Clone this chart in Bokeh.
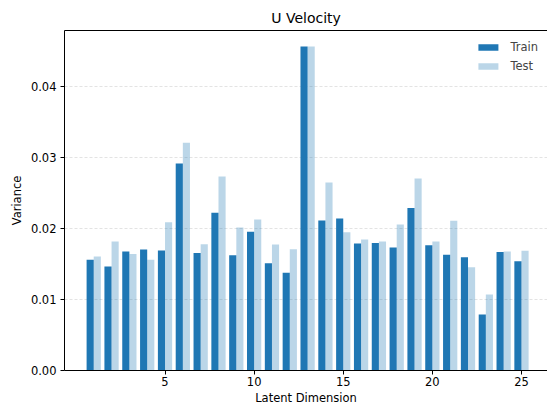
from bokeh.plotting import figure
from bokeh.models import (ColumnDataSource, Range1d, LinearAxis, FixedTicker,
                          NumeralTickFormatter, Legend, LegendItem)
from bokeh.transform import dodge
from bokeh.embed import file_html
from bokeh.resources import INLINE

# Per-dimension variance of the latent code, train vs. test split
dims = list(range(1, 26))
train_var = [0.01559, 0.01465, 0.01676, 0.01704, 0.01690, 0.02915, 0.01657, 0.02221,
             0.01624, 0.01953, 0.01512, 0.01376, 0.04563, 0.02113, 0.02141, 0.01789,
             0.01798, 0.01732, 0.02291, 0.01765, 0.01629, 0.01596, 0.00789, 0.01671,
             0.01540]
test_var = [0.01606, 0.01817, 0.01643, 0.01559, 0.02089, 0.03207, 0.01779, 0.02732,
            0.02014, 0.02127, 0.01775, 0.01709, 0.04563, 0.02648, 0.01948, 0.01845,
            0.01817, 0.02056, 0.02704, 0.01817, 0.02108, 0.01455, 0.01070, 0.01676,
            0.01686]
y_ticks = [0.0, 0.01, 0.02, 0.03, 0.04]
x_ticks = [5, 10, 15, 20, 25]

src = ColumnDataSource(dict(dim=dims, train=train_var, test=test_var))

FONT = "DejaVu Sans"
BLUE = "#1f77b4"

p = figure(width=547, height=407, output_backend="svg", toolbar_location=None,
           x_range=Range1d(-0.64, 26.46), y_range=Range1d(0, 0.0479),
           title="U Velocity", min_border_left=64, min_border_right=0,
           min_border_top=30, min_border_bottom=37)
p.outline_line_color = None
p.background_fill_color = "white"
p.border_fill_color = "white"

# title
p.title.text_font = FONT
p.title.text_font_size = "14px"
p.title.text_font_style = "normal"
p.title.align = "center"
p.title.text_color = "black"

# bars
r_train = p.vbar(x=dodge("dim", -0.2, range=p.x_range), top="train", width=0.4,
                 source=src, fill_color=BLUE, line_color=None)
r_test = p.vbar(x=dodge("dim", 0.2, range=p.x_range), top="test", width=0.4,
                source=src, fill_color=BLUE, fill_alpha=0.3, line_color=None)

# grid
p.xgrid.grid_line_color = None
p.ygrid.ticker = FixedTicker(ticks=y_ticks)
p.ygrid.grid_line_color = "#b0b0b0"
p.ygrid.grid_line_alpha = 0.6
p.ygrid.grid_line_width = 0.6
p.ygrid.grid_line_dash = "3 2"

# axes
for ax in (p.xaxis[0], p.yaxis[0]):
    ax.axis_line_color = "black"
    ax.axis_line_width = 1
    ax.major_tick_line_color = "black"
    ax.major_tick_in = 0
    ax.major_tick_out = 4
    ax.minor_tick_line_color = None
    ax.major_label_text_font = FONT
    ax.major_label_text_font_size = "11.5px"
    ax.major_label_text_color = "black"
    ax.axis_label_text_font = FONT
    ax.axis_label_text_font_size = "11.5px"
    ax.axis_label_text_font_style = "normal"
    ax.axis_label_text_color = "black"

p.xaxis[0].ticker = FixedTicker(ticks=x_ticks)
p.xaxis[0].axis_label = "Latent Dimension"
p.xaxis[0].axis_label_standoff = 2
p.xaxis[0].major_label_standoff = 2

p.yaxis[0].ticker = FixedTicker(ticks=y_ticks)
p.yaxis[0].formatter = NumeralTickFormatter(format="0.00")
p.yaxis[0].axis_label = "Variance"
p.yaxis[0].axis_label_standoff = 4
p.yaxis[0].major_label_standoff = 4

# top frame line
top = LinearAxis(ticker=FixedTicker(ticks=[]), major_label_text_font_size="0px",
                 axis_line_color="black", axis_line_width=1,
                 major_tick_line_color=None, minor_tick_line_color=None)
p.add_layout(top, "above")

legend = Legend(items=[LegendItem(label="Train", renderers=[r_train]),
                       LegendItem(label="Test", renderers=[r_test])],
                location="top_right", border_line_color=None,
                background_fill_alpha=0, label_text_font=FONT,
                label_text_font_size="11.5px", glyph_width=25, glyph_height=8,
                label_height=15, spacing=4, padding=5, margin=9, label_standoff=10)
p.add_layout(legend)

open("out.html", "w").write(file_html(p, INLINE))
